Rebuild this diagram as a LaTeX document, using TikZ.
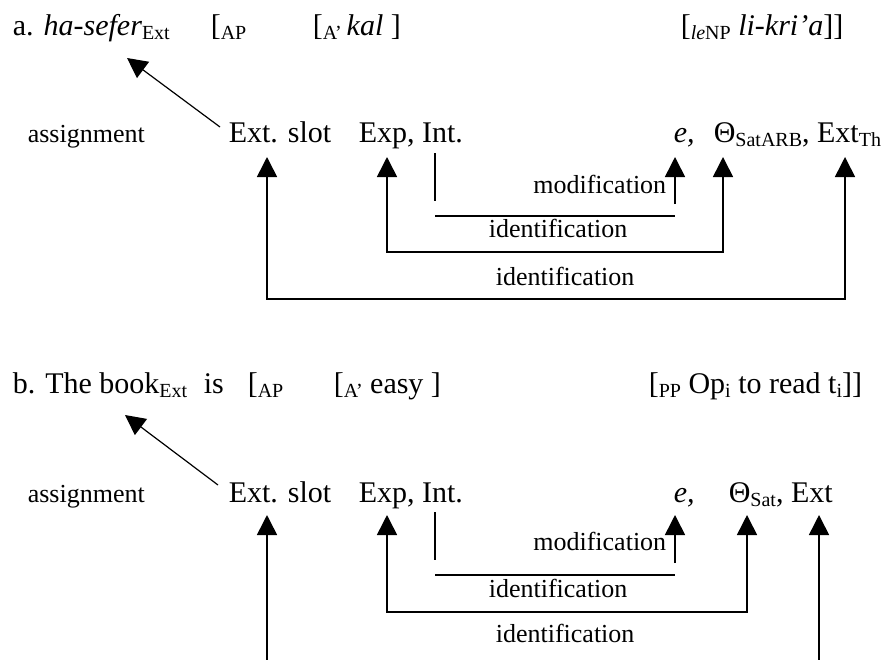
\documentclass[tikz,border=0pt]{standalone}
\usepackage{fontspec}
\setmainfont{Liberation Serif}
\usetikzlibrary{arrows.meta}
\newcommand{\lowtext}[1]{\raisebox{-4pt}{\fontsize{20}{20}\selectfont #1}}

\begin{document}
\begin{tikzpicture}[x=1pt,y=-1pt,>={Triangle[width=20pt,length=20pt]},line width=1.6pt,
    every node/.style={inner sep=0pt,anchor=base west,font=\fontsize{30}{36}\selectfont},
    lbl/.style={font=\fontsize{26}{30}\selectfont}]
      \useasboundingbox (0,0) rectangle (893,659);
      % (a)
      \node (HaSefer) at (12,35) {a. \textit{ha-sefer}\lowtext{Ext}};
      \node (APa) at (210,35) {[\lowtext{AP}};
      \node (Kal) at (312,35) {[\lowtext{A'}\,\textit{kal} ]};
      \node (LeNP) at (680,35) {[\lowtext{\textit{le}NP} \textit{li-kri'a}]]};
      \node [lbl] (AssignA) at (27,142) {assignment};
      \node (ExtSlotA) at (228,142) {Ext. slot};
      \node (ExpIntA) at (358,142) {Exp, Int.};
      \node (EA) at (673,142) {\textit{e,}};
      \node (ThetaA) at (713,142) {Θ\lowtext{SatARB}, Ext\lowtext{Th}};
      \node [lbl,anchor=base east] (ModA) at (667,193) {modification};
      \node [lbl] (IdA1) at (488,237) {identification};
      \node [lbl] (IdA2) at (495,285) {identification};
      \coordinate (ArrA0) at (220,127);
      \coordinate (ArrA1) at (127,58);
      \draw [->,line width=1.2pt] (ArrA0) -- (ArrA1);
      \draw [<->] (267,157) -- (267,299) -- (845,299) -- (845,157);
      \draw [<->] (387,157) -- (387,252) -- (723,252) -- (723,157);
      \draw (435,153) -- (435,201);
      \draw (435,216) -- (675,216);
      \draw [->] (675,204) -- (675,157);
      %
      % (b)
      \node (TheBook) at (12,393) {b. The book\lowtext{Ext}};
      \node (Is) at (203,393) {is};
      \node (APb) at (247,393) {[\lowtext{AP}};
      \node (Easy) at (333,393) {[\lowtext{A'} easy ]};
      \node (PP) at (648,393) {[\lowtext{PP} Op\lowtext{i} to read t\lowtext{i}]]};
      \node [lbl] (AssignB) at (27,502) {assignment};
      \node (ExtSlotB) at (228,502) {Ext. slot};
      \node (ExpIntB) at (358,502) {Exp, Int.};
      \node (EB) at (673,502) {\textit{e,}};
      \node (ThetaB) at (728,502) {Θ\lowtext{Sat}, Ext};
      \node [lbl,anchor=base east] (ModB) at (667,550) {modification};
      \node [lbl] (IdB1) at (488,597) {identification};
      \node [lbl] (IdB2) at (495,642) {identification};
      \coordinate (ArrB0) at (218,485);
      \coordinate (ArrB1) at (125,415);
      \draw [->,line width=1.2pt] (ArrB0) -- (ArrB1);
      \draw [->] (267,662) -- (267,515);
      \draw [->] (819,662) -- (819,515);
      \draw [<->] (387,515) -- (387,612) -- (747,612) -- (747,515);
      \draw (435,512) -- (435,560);
      \draw (435,575) -- (675,575);
      \draw [->] (675,563) -- (675,515);
      %
    \end{tikzpicture}
\end{document}
